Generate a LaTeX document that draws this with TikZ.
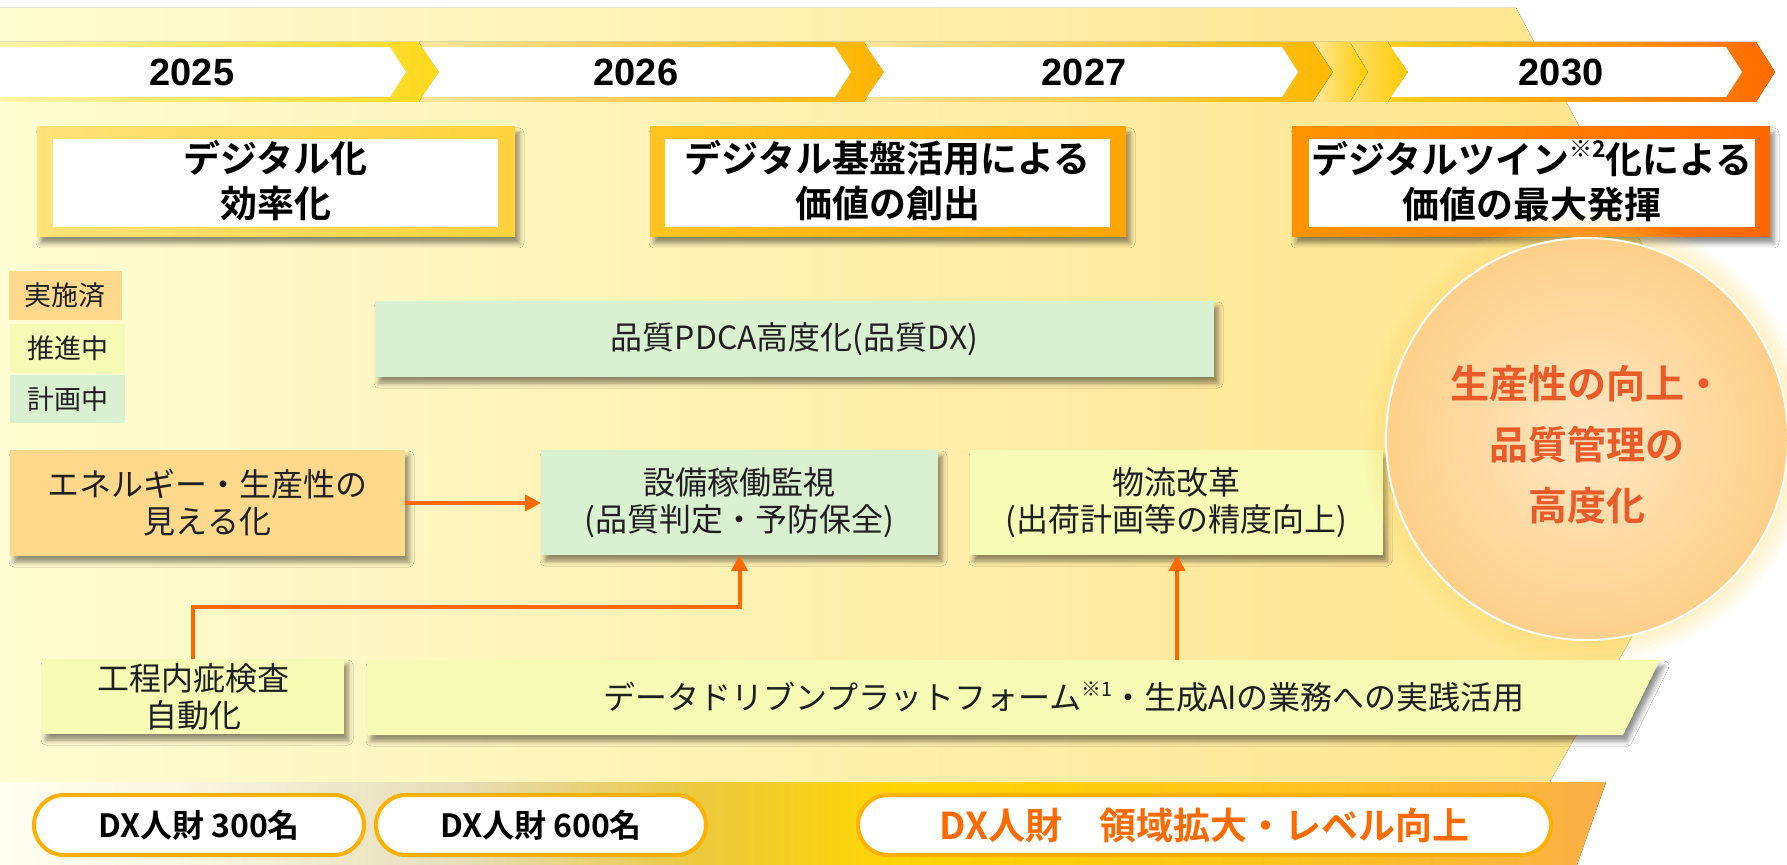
\documentclass[tikz,border=0pt]{standalone}
\usepackage{graphicx}
\usepackage{fontspec}
\setmainfont{Noto Sans CJK JP}[BoldFont={Noto Sans CJK JP Bold}]
\newfontfamily\yearfont{Liberation Sans}[BoldFont={Liberation Sans Bold}]
\usetikzlibrary{arrows.meta,shadows.blur}
\newcommand{\mysup}[1]{\raisebox{0.42em}{\scalebox{0.62}{#1}}}

\definecolor{txtc}{HTML}{1F1F1F}
\definecolor{bgL}{HTML}{FFFDD3}
\definecolor{bgR}{HTML}{FFE287}
\definecolor{bandA}{HTML}{FFFEF2}
\definecolor{bandB}{HTML}{FAF7E2}
\definecolor{bandC}{HTML}{E6DDB8}
\definecolor{bandD}{HTML}{EBC940}
\definecolor{bandE}{HTML}{FFD600}
\definecolor{bandF}{HTML}{FFC51A}
\definecolor{bandG}{HTML}{FBB048}
\definecolor{a1L}{HTML}{FFF4A8}
\definecolor{a1R}{HTML}{FFD81C}
\definecolor{a2L}{HTML}{F9E39C}
\definecolor{a2R}{HTML}{FFB400}
\definecolor{a3L}{HTML}{FBE39A}
\definecolor{a3M}{HTML}{FFCE00}
\definecolor{a3R}{HTML}{FFB800}
\definecolor{cbL}{HTML}{FFE8A0}
\definecolor{cbR}{HTML}{FFCC00}
\definecolor{ccL}{HTML}{FFE070}
\definecolor{ccR}{HTML}{FFC800}
\definecolor{a4L}{HTML}{FFD21A}
\definecolor{a4M}{HTML}{FF9E00}
\definecolor{a4R}{HTML}{FF6A00}
\definecolor{f1L}{HTML}{FFE27A}
\definecolor{f1R}{HTML}{FFD23C}
\definecolor{f2L}{HTML}{FFC41E}
\definecolor{f2R}{HTML}{FFA500}
\definecolor{f3L}{HTML}{FF9400}
\definecolor{f3R}{HTML}{FF6800}
\definecolor{boxO}{HTML}{FFD98B}
\definecolor{boxY}{HTML}{F5FBB4}
\definecolor{boxG}{HTML}{D9F1D1}
\definecolor{cIn}{HTML}{FFE7C2}
\definecolor{cOut}{HTML}{FDD08A}
\definecolor{goalc}{HTML}{EA5B2B}
\definecolor{haloc}{HTML}{FFE070}
\definecolor{pillc}{HTML}{FFB000}
\definecolor{pill3t}{HTML}{FF6A00}
\definecolor{connc}{HTML}{FF6A00}

\pgfdeclarehorizontalshading{bandsh}{100bp}{color(0bp)=(bandA); color(25bp)=(bandA); color(30.5bp)=(bandB); color(39.5bp)=(bandC); color(46.5bp)=(bandD); color(53bp)=(bandE); color(64bp)=(bandF); color(75bp)=(bandG); color(100bp)=(bandG)}

\tikzset{
  yearlbl/.style={font=\yearfont\fontsize{19pt}{22pt}\selectfont\bfseries, text=black, inner sep=0pt},
  titletxt/.style={font=\fontsize{18.5pt}{22.5pt}\selectfont\bfseries, text=black, align=center, inner sep=0pt},
  shade box/.style={blur shadow={shadow xshift=2pt, shadow yshift=-3pt, shadow blur radius=2.5pt, shadow opacity=45}},
  bodybox/.style={shade box, inner sep=0pt, outer sep=0pt, align=center, text=txtc,
     font=\fontsize{16pt}{18.5pt}\selectfont},
  legend/.style={inner sep=0pt, outer sep=0pt, align=center, text=txtc,
     font=\fontsize{13.5pt}{16pt}\selectfont},
  conn/.style={draw=connc, line width=2pt, -{Triangle[length=8pt,width=8pt]}},
  pill/.style={draw=pillc, line width=2pt, fill=white, rounded corners=15pt, inner sep=0pt,
     minimum height=30pt, font=\fontsize{16pt}{18pt}\selectfont\bfseries, text=black},
  goaltxt/.style={font=\fontsize{19.5pt}{30.5pt}\selectfont\bfseries, text=goalc, align=center, inner sep=0pt}
}

\begin{document}
\begin{tikzpicture}[x=0.5pt,y=-0.5pt]
\useasboundingbox (0,0) rectangle (1787,865);
\fill[white] (0,0) rectangle (1787,865);

% background chevron
\fill[left color=bgL, right color=bgR] (0,8) -- (1516,8) -- (1745,437) -- (1518,838) -- (0,838) -- cycle;
% bottom band
\fill[shading=bandsh] (0,782) -- (1606,782) -- (1577,865) -- (0,865) -- cycle;

% year arrows
\fill[left color=a1L, right color=a1R] (0,42) -- (419,42) -- (439,72) -- (419,102) -- (0,102) -- cycle;
\fill[white] (0,47) -- (390,47) -- (406,72) -- (390,97) -- (0,97) -- cycle;
\fill[left color=a2L, right color=a2R] (419,42) -- (864,42) -- (884,72) -- (864,102) -- (419,102) -- (439,72) -- cycle;
\fill[white] (422,47) -- (835,47) -- (851,72) -- (835,97) -- (422,97) -- (439,72) -- cycle;
\fill[left color=a3L, middle color=a3M, right color=a3R] (864,42) -- (1313,42) -- (1333,72) -- (1313,102) -- (864,102) -- (884,72) -- cycle;
\fill[white] (867,47) -- (1282,47) -- (1298,72) -- (1282,97) -- (867,97) -- (884,72) -- cycle;
\fill[left color=cbL, right color=cbR] (1313,42) -- (1350,42) -- (1368,72) -- (1350,102) -- (1313,102) -- (1333,72) -- cycle;
\fill[left color=ccL, right color=ccR] (1350,42) -- (1388,42) -- (1408,72) -- (1388,102) -- (1350,102) -- (1368,72) -- cycle;
\fill[left color=a4L, middle color=a4M, right color=a4R] (1388,42) -- (1756,42) -- (1775,72) -- (1756,102) -- (1388,102) -- (1408,72) -- cycle;
\fill[white] (1391,47) -- (1726,47) -- (1742,72) -- (1726,97) -- (1391,97) -- (1408,72) -- cycle;

\node[yearlbl] (y25) at (192,72.5) {2025};
\node[yearlbl] (y26) at (636,72.5) {2026};
\node[yearlbl] (y27) at (1084,72.5) {2027};
\node[yearlbl] (y30) at (1561,72.5) {2030};

% title boxes
\fill[left color=f1L, right color=f1R, shade box] (37,127) rectangle (515,237);
\fill[white] (53,139) rectangle (498,227);
\node[titletxt] (t1) at (275.5,181) {デジタル化\\効率化};
\fill[left color=f2L, right color=f2R, shade box] (650,127) rectangle (1126,237);
\fill[white] (665,139) rectangle (1110,227);
\node[titletxt] (t2) at (887.5,181) {デジタル基盤活用による\\価値の創出};
\fill[left color=f3L, right color=f3R, shade box] (1292,127) rectangle (1770,237);
\fill[white] (1309,139) rectangle (1755,227);
\node[titletxt] (t3) at (1532,181) {デジタルツイン\mysup{※2}化による\\価値の最大発揮};

% legend
\node[legend, fill=boxO, minimum width=56.5pt, minimum height=24.5pt] (lg1) at (65.5,295.5) {実施済};
\node[legend, fill=boxY, minimum width=57.5pt, minimum height=24.5pt] (lg2) at (67.5,348.5) {推進中};
\node[legend, fill=boxG, minimum width=57.5pt, minimum height=24pt] (lg3) at (67.5,399) {計画中};

% main boxes
\node[bodybox, fill=boxG, minimum width=419.5pt, minimum height=38pt] (pdca) at (794.5,339) {品質PDCA高度化(品質DX)};
\node[bodybox, fill=boxO, minimum width=197.5pt, minimum height=53pt] (ene) at (207.5,503) {エネルギー・生産性の\\見える化};
\node[bodybox, fill=boxG, minimum width=198.5pt, minimum height=52.5pt] (set) at (739.5,502.5) {設備稼働監視\\(品質判定・予防保全)};
\node[bodybox, fill=boxY, minimum width=206.5pt, minimum height=52.5pt] (buts) at (1176.5,502.5) {物流改革\\(出荷計画等の精度向上)};
\node[bodybox, fill=boxY, minimum width=151pt, minimum height=37.5pt] (kotei) at (193,696.5) {工程内疵検査\\自動化};

% platform
\fill[boxY, shade box] (367,660) -- (1660,660) -- (1623,735) -- (367,735) -- cycle;
\node[inner sep=0pt, text=txtc, font=\fontsize{16pt}{18pt}\selectfont] (plat) at (1064,697)
  {データドリブンプラットフォーム\mysup{※1}・生成AIの業務への実践活用};
\coordinate (platTop) at (1177,660);

% connectors
\draw[conn] (ene.east) -- (ene.east -| set.west);
\draw[conn] (kotei.north) -- ++(0,-52) -| (set.south);
\draw[conn] (platTop) -- (platTop |- buts.south);

% goal circle
\foreach \r in {112,110,108,106,104,102} {
  \fill[haloc, opacity=0.07] (1587,439) circle[radius=\r pt];
}
\node[circle, minimum size=201pt, inner sep=0pt, inner color=cIn, outer color=cOut, draw=white, line width=1pt] (goal) at (1587,439) {};
\node[goaltxt] (goalt) at (1587,445) {生産性の向上・\\品質管理の\\高度化};

% DX pills
\node[pill, minimum width=165pt] (p1) at (199,825) {DX人財 300名};
\node[pill, minimum width=165pt] (p2) at (541,825) {DX人財 600名};
\node[pill, minimum width=346.5pt, font=\fontsize{18.5pt}{20pt}\selectfont\bfseries, text=pill3t] (p3) at (1204.5,825) {DX人財　領域拡大・レベル向上};
\end{tikzpicture}
\end{document}
